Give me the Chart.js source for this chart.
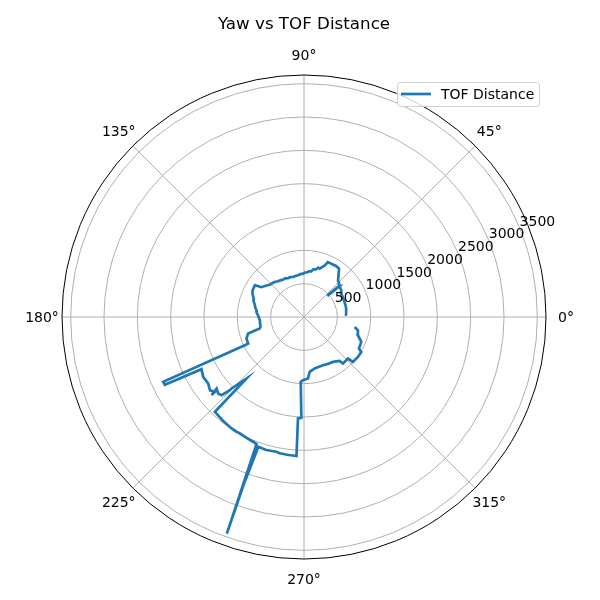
<!DOCTYPE html>
<html>
<head>
<meta charset="utf-8">
<script src="https://cdn.jsdelivr.net/npm/chart.js@4.4.1/dist/chart.umd.min.js"></script>
<style>
  body { margin: 0; background: #fff; }
  canvas { display: block; }
</style>
</head>
<body>
<canvas id="polarChart" width="600" height="600"></canvas>
<script>
// yaw angle (degrees) and TOF distance, in the order they were recorded
var yawDeg = [3, 12, 21, 32, 36, 41, 42, 41.5, 42.5, 41, 44, 47, 54, 57.5, 66.5, 68, 72, 74, 76, 79, 81, 84, 86, 89, 91,
  95, 98, 102, 105, 109, 112, 116, 119, 123, 126, 129, 132, 136, 140, 145, 147, 152.5, 156, 160, 163, 166, 169, 172, 175, 178, 184, 193, 194.5, 196.5, 200.5,
  205.5, 205.5, 204.7, 206, 207, 210.7, 214.7, 218, 220, 220.2, 219.3, 221.7, 223.5, 224.6, 224.6, 226.9, 226.8,
  232, 237, 239.5, 241, 245, 247.8, 249.5, 250.4, 250, 250.2, 250.6, 250.3, 250.5, 254.2, 258.4, 259.9, 263, 266.9,
  266.6, 268.5, 267.1, 269.1, 273.7, 275.9, 281.7, 286, 291.5, 297, 302.8, 309, 310, 316.6, 317.4, 323.5,
  328.6, 330.1, 336.5, 341.3, 346.2, 348.8];
var tofDist = [645, 646, 650, 660, 690, 705, 470, 700, 480, 710, 730, 749, 894, 904, 898, 834, 762, 770, 735, 728, 693, 690, 670, 668, 650,
  645, 632, 628, 621, 632, 630, 645, 642, 655, 662, 680, 693, 702, 736, 780, 877, 870, 845, 802, 790, 760, 745, 720, 712, 690, 665, 670, 686, 874, 921,
  928, 984, 2325, 2322, 1726, 1759, 1749, 1788, 1746, 1815, 1694, 1724, 1704, 1562, 1526, 1262, 1952,
  1975, 1993, 1997, 1994, 2010, 2021, 2035, 3450, 2100, 2700, 2080, 2500, 2064, 2073, 2063, 2077, 2082, 2089,
  1524, 1512, 974, 948, 924, 828, 789, 782, 777, 790, 801, 848, 910, 907, 996, 1006,
  1006, 950, 937, 853, 833, 774];

var radialTicks = [500, 1000, 1500, 2000, 2500, 3000, 3500];
var angleTicks = [0, 45, 90, 135, 180, 225, 270, 315];
var rMax = 3630;

var points = yawDeg.map(function(a, i) {
  var t = a * Math.PI / 180;
  return { x: tofDist[i] * Math.cos(t), y: tofDist[i] * Math.sin(t) };
});

var font = '"DejaVu Sans", sans-serif';

var polarGrid = {
  id: 'polarGrid',
  beforeDatasetsDraw: function(chart) {
    var ctx = chart.ctx, xs = chart.scales.x, ys = chart.scales.y;
    var cx = xs.getPixelForValue(0), cy = ys.getPixelForValue(0);
    var rad = function(v) { return xs.getPixelForValue(v) - cx; };
    ctx.save();
    ctx.strokeStyle = '#b0b0b0';
    ctx.lineWidth = 1;
    radialTicks.forEach(function(t) {
      ctx.beginPath();
      ctx.arc(cx, cy, rad(t), 0, 2 * Math.PI);
      ctx.stroke();
    });
    angleTicks.forEach(function(a) {
      var t = a * Math.PI / 180;
      ctx.beginPath();
      ctx.moveTo(cx, cy);
      ctx.lineTo(cx + rad(rMax) * Math.cos(t), cy - rad(rMax) * Math.sin(t));
      ctx.stroke();
    });
    ctx.restore();
  },
  afterDatasetsDraw: function(chart) {
    var ctx = chart.ctx, xs = chart.scales.x, ys = chart.scales.y;
    var cx = xs.getPixelForValue(0), cy = ys.getPixelForValue(0);
    var rad = function(v) { return xs.getPixelForValue(v) - cx; };
    ctx.save();
    // outer spine
    ctx.strokeStyle = '#000';
    ctx.lineWidth = 1;
    ctx.beginPath();
    ctx.arc(cx, cy, rad(rMax), 0, 2 * Math.PI);
    ctx.stroke();

    ctx.fillStyle = '#000';
    ctx.font = '14px ' + font;
    // angle labels
    ctx.textAlign = 'center';
    ctx.textBaseline = 'middle';
    angleTicks.forEach(function(a) {
      var t = a * Math.PI / 180, d = rad(rMax) + 20;
      ctx.fillText(a + '°', cx + d * Math.cos(t), cy - d * Math.sin(t) + 1);
    });
    // radial labels at 22.5 deg
    ctx.textAlign = 'left';
    ctx.textBaseline = 'alphabetic';
    var lt = 22.5 * Math.PI / 180;
    radialTicks.forEach(function(r) {
      ctx.fillText(String(r), cx + rad(r) * Math.cos(lt), cy - rad(r) * Math.sin(lt) - 2);
    });

    // title
    ctx.textAlign = 'center';
    ctx.font = '16.7px ' + font;
    ctx.fillText('Yaw vs TOF Distance', cx, 29);

    // legend
    ctx.beginPath();
    ctx.roundRect(397.5, 82.5, 142, 24, 3);
    ctx.fillStyle = 'rgba(255,255,255,0.8)';
    ctx.fill();
    ctx.strokeStyle = '#d0d0d0';
    ctx.lineWidth = 1;
    ctx.stroke();
    ctx.strokeStyle = '#1f77b4';
    ctx.lineWidth = 2.7;
    ctx.beginPath();
    ctx.moveTo(401, 94);
    ctx.lineTo(431, 94);
    ctx.stroke();
    ctx.fillStyle = '#000';
    ctx.font = '14px ' + font;
    ctx.textAlign = 'left';
    ctx.textBaseline = 'middle';
    ctx.fillText('TOF Distance', 441, 95);
    ctx.restore();
  }
};

new Chart(document.getElementById('polarChart').getContext('2d'), {
  type: 'scatter',
  data: {
    datasets: [{
      label: 'TOF Distance',
      data: points,
      showLine: true,
      borderColor: '#1f77b4',
      backgroundColor: '#1f77b4',
      borderWidth: 2.7,
      pointRadius: 0,
      tension: 0,
      clip: false
    }]
  },
  options: {
    responsive: false,
    animation: false,
    layout: { padding: { left: 62, top: 75, right: 54, bottom: 41 } },
    plugins: { legend: { display: false }, title: { display: false }, tooltip: { enabled: false } },
    scales: {
      x: { type: 'linear', min: -rMax, max: rMax, display: false },
      y: { type: 'linear', min: -rMax, max: rMax, display: false }
    }
  },
  plugins: [polarGrid]
});
</script>
</body>
</html>
